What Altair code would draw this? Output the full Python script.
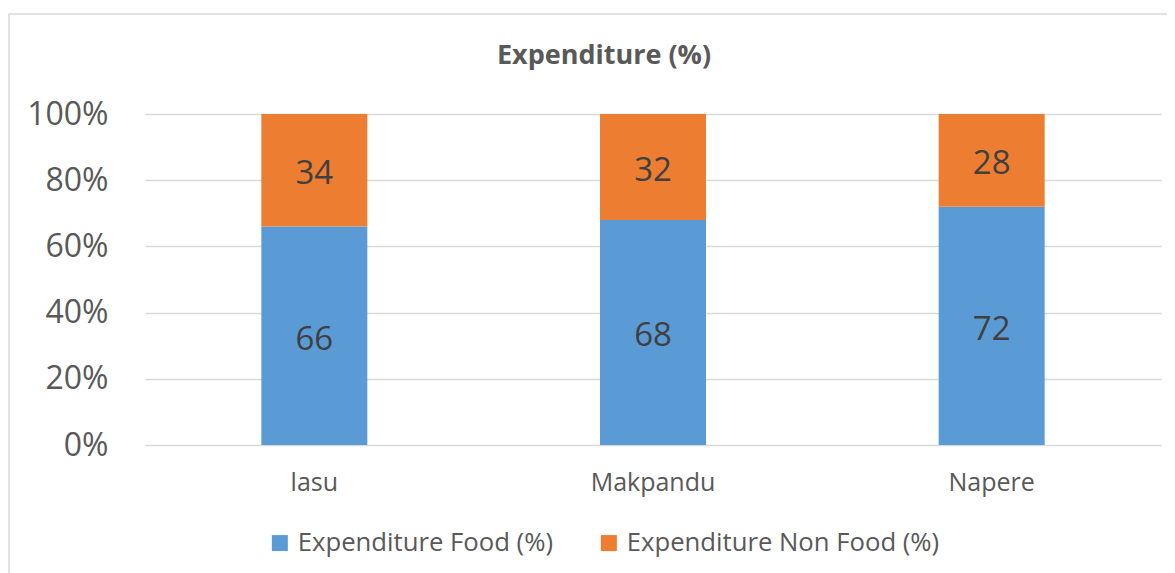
import altair as alt
import pandas as pd

sites = ["lasu", "Makpandu", "Napere"]
series = ["Expenditure Food (%)", "Expenditure Non Food (%)"]
food = [66, 68, 72]
nonfood = [34, 32, 28]
y_ticks = [0, 20, 40, 60, 80, 100]
colors = ["#5B9BD5", "#ED7D31"]

rows = []
for i, s in enumerate(sites):
    rows.append({"site": s, "series": series[0], "value": food[i], "order": 0})
    rows.append({"site": s, "series": series[1], "value": nonfood[i], "order": 1})
df = pd.DataFrame(rows)

FONT = "Open Sans"
GRAY = "#595959"

base = (
    alt.Chart(df)
    .transform_stack(
        stack="value",
        groupby=["site"],
        as_=["v0", "v1"],
        sort=[alt.SortField("order", order="ascending")],
    )
    .transform_calculate(mid="(datum.v0 + datum.v1) / 2")
)

xenc = alt.X(
    "site:N",
    sort=sites,
    scale=alt.Scale(paddingInner=0.687, paddingOuter=0.3435),
    axis=alt.Axis(
        title=None, labelAngle=0, labelFontSize=25, labelColor=GRAY, labelFont=FONT,
        domain=False, ticks=False, grid=False, labelPadding=25,
    ),
)

bars = base.mark_bar().encode(
    x=xenc,
    y=alt.Y(
        "v0:Q",
        scale=alt.Scale(domain=[0, 100], nice=False),
        axis=alt.Axis(
            title=None, values=y_ticks, labelExpr="datum.value + '%'",
            labelFontSize=32, labelColor=GRAY, labelFont=FONT,
            domain=False, ticks=False, grid=True, gridColor="#D9D9D9",
            gridWidth=1.3, labelPadding=37,
        ),
    ),
    y2="v1:Q",
    color=alt.Color(
        "series:N",
        scale=alt.Scale(domain=series, range=colors),
        legend=alt.Legend(
            orient="none", legendX=122, legendY=416, direction="horizontal",
            title=None, symbolType="square", symbolSize=256, symbolStrokeWidth=0,
            labelFontSize=25.7, labelColor=GRAY, labelFont=FONT, labelLimit=500,
            columnPadding=43, labelOffset=5,
        ),
    ),
)

labels = base.mark_text(fontSize=33, color="#404040", font=FONT, dy=4).encode(
    x=alt.X("site:N", sort=sites),
    y=alt.Y("mid:Q"),
    text=alt.Text("value:Q"),
)

border = alt.Chart(alt.Data(values=[{"a": 1}])).mark_rect(
    filled=False, stroke="#D9D9D9", strokeWidth=1.5
).encode(
    x=alt.value(-136), x2=alt.value(1054), y=alt.value(-100), y2=alt.value(470)
)

chart = (
    alt.layer(border, bars, labels)
    .properties(
        width=1016,
        height=331,
        title=alt.Title(
            "Expenditure (%)", fontSize=27, fontWeight="bold", color=GRAY,
            font=FONT, anchor="middle", dx=-49, dy=61,
        ),
        autosize=alt.AutoSizeParams(type="none"),
        padding={"left": 137, "top": 106, "right": 6, "bottom": 128},
        background="white",
    )
    .configure_view(stroke=None)
)

chart.save("out.html", embed_options={"renderer": "svg", "actions": False})
